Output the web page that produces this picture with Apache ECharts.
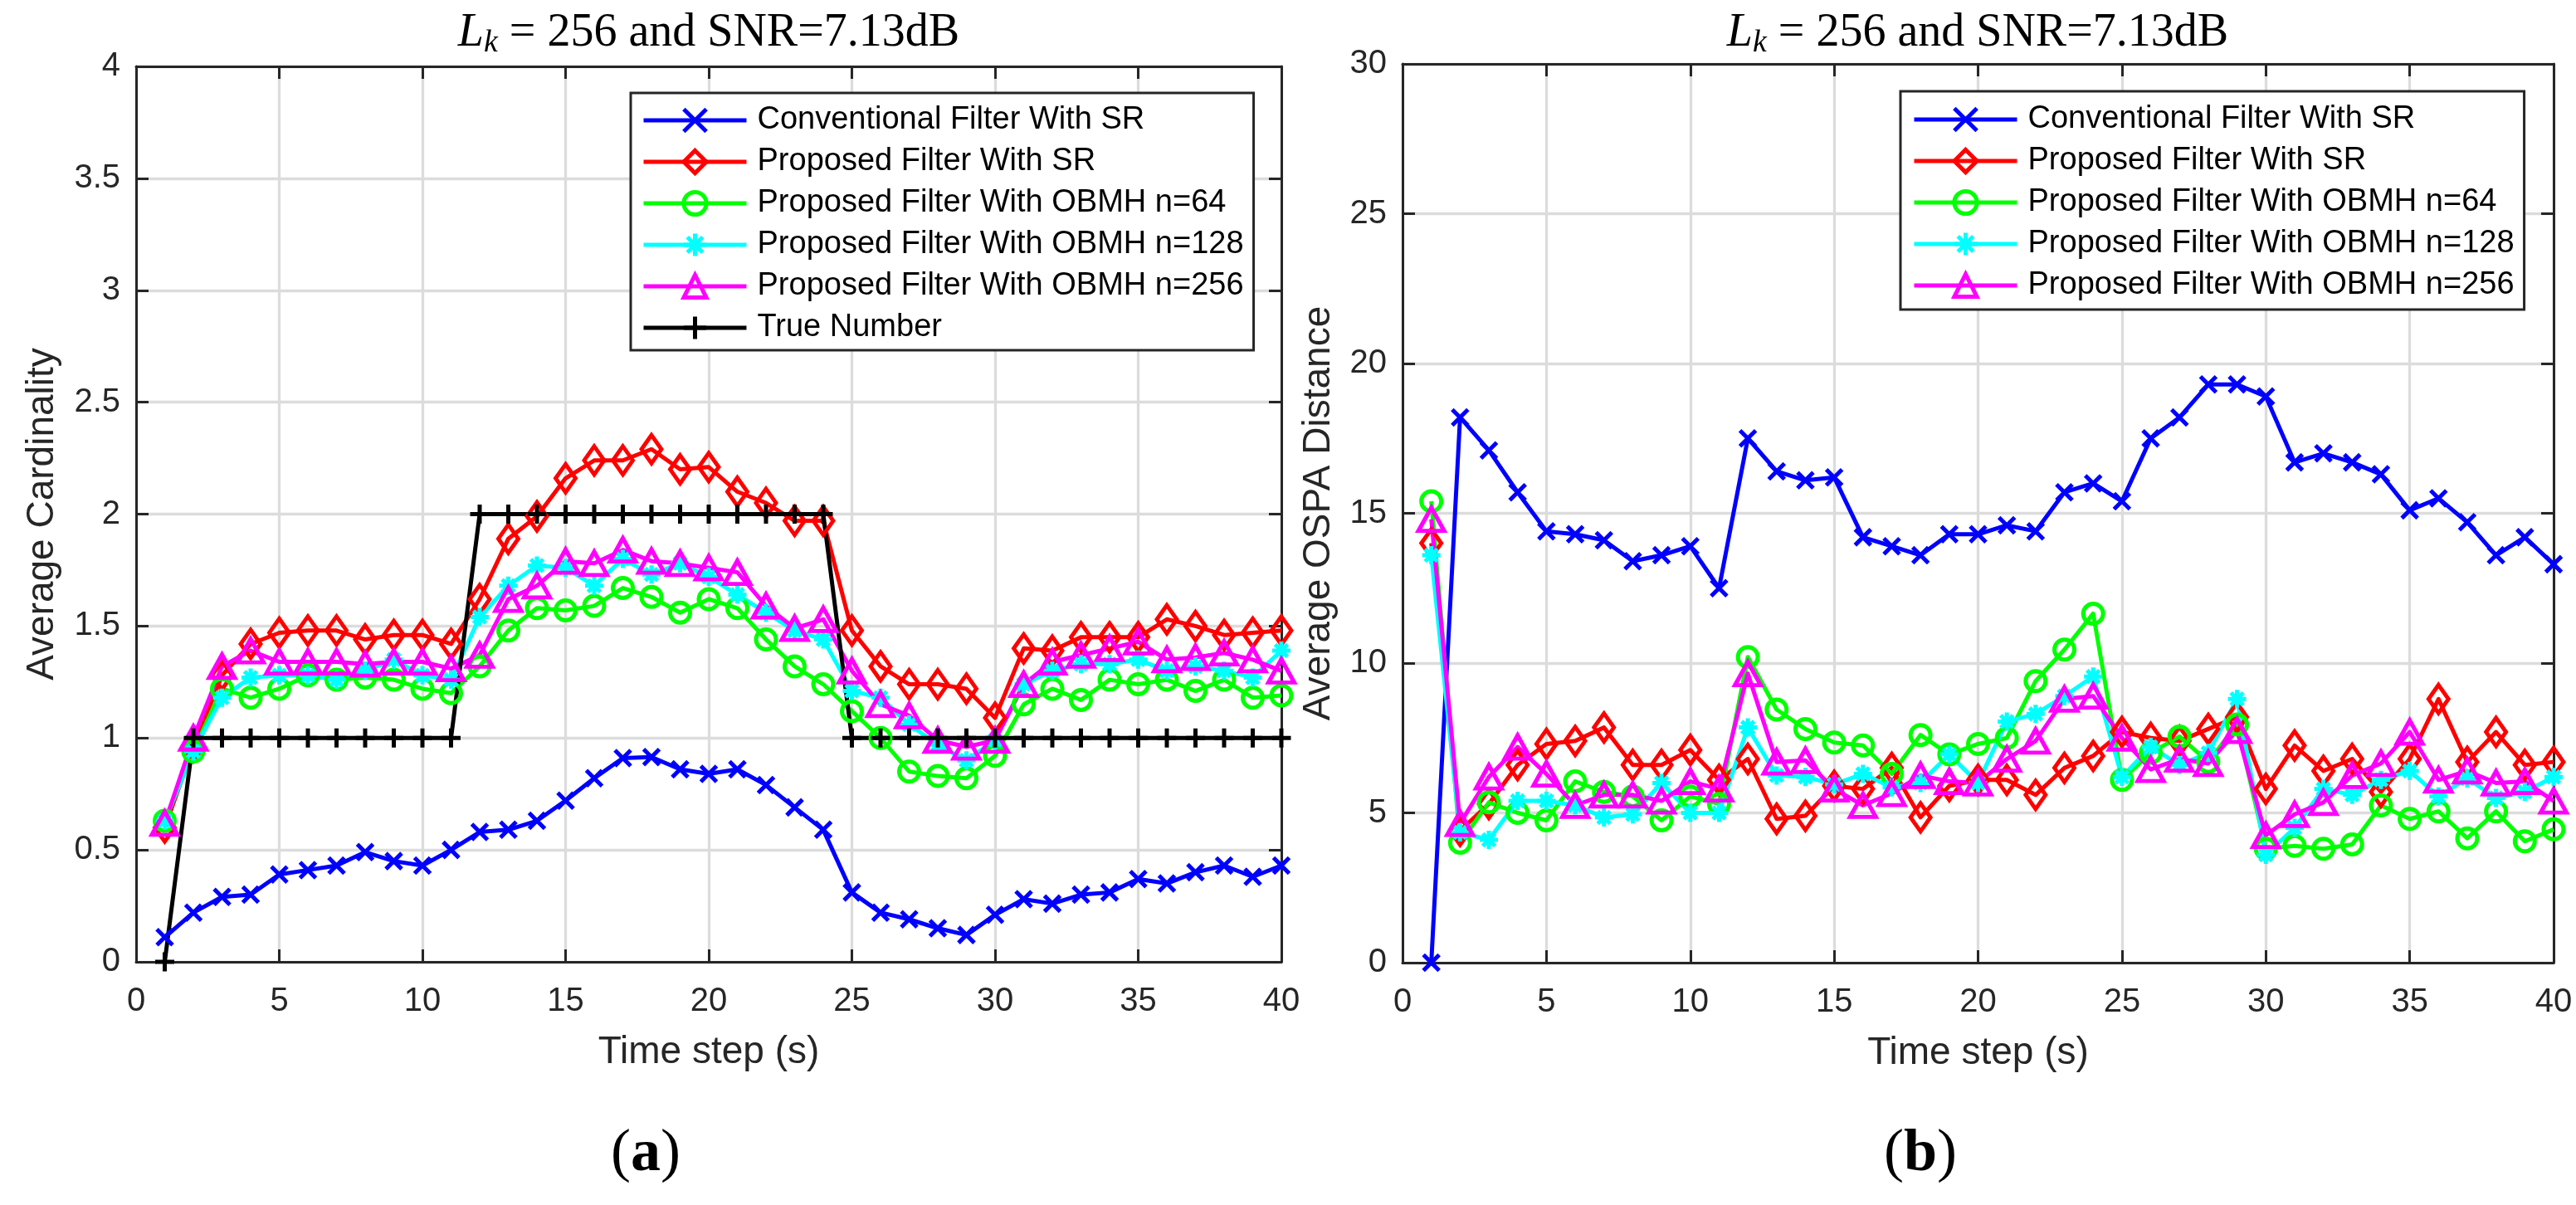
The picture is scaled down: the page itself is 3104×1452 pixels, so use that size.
<!DOCTYPE html>
<html>
<head>
<meta charset="utf-8">
<title>Average Cardinality and OSPA</title>
<script src="https://cdn.jsdelivr.net/npm/echarts@6/dist/echarts.min.js"></script>
<style>
  html, body { margin: 0; padding: 0; background: #fff; }
  #main { width: 3104px; height: 1452px; }
</style>
</head>
<body>
<div id="main"></div>
<script>
var timeSteps = [1, 2, 3, 4, 5, 6, 7, 8, 9, 10, 11, 12, 13, 14, 15, 16, 17, 18, 19, 20,
                 21, 22, 23, 24, 25, 26, 27, 28, 29, 30, 31, 32, 33, 34, 35, 36, 37, 38, 39, 40];

var seriesNames = [
    'Conventional Filter With SR',
    'Proposed Filter With SR',
    'Proposed Filter With OBMH n=64',
    'Proposed Filter With OBMH n=128',
    'Proposed Filter With OBMH n=256',
    'True Number'
];

// (a) average cardinality
var convCard = [0.11, 0.22, 0.29, 0.30, 0.39, 0.41, 0.43, 0.49, 0.45, 0.43, 0.50, 0.58, 0.59, 0.63, 0.72, 0.82, 0.91, 0.915, 0.86, 0.84,
                0.86, 0.79, 0.69, 0.59, 0.31, 0.22, 0.19, 0.15, 0.12, 0.21, 0.28, 0.26, 0.30, 0.31, 0.37, 0.35, 0.40, 0.43, 0.38, 0.43];
var srCard = [0.60, 0.96, 1.28, 1.42, 1.47, 1.48, 1.48, 1.44, 1.46, 1.46, 1.42, 1.62, 1.89, 1.99, 2.16, 2.24, 2.24, 2.29, 2.20, 2.21,
              2.10, 2.05, 1.97, 1.97, 1.48, 1.32, 1.24, 1.24, 1.22, 1.09, 1.40, 1.39, 1.45, 1.45, 1.45, 1.53, 1.50, 1.46, 1.47, 1.48];
var n64Card = [0.63, 0.94, 1.22, 1.18, 1.22, 1.28, 1.26, 1.27, 1.26, 1.22, 1.20, 1.32, 1.48, 1.58, 1.57, 1.59, 1.67, 1.63, 1.56, 1.62,
               1.58, 1.44, 1.32, 1.24, 1.12, 1.00, 0.85, 0.83, 0.82, 0.92, 1.15, 1.22, 1.17, 1.26, 1.24, 1.26, 1.21, 1.26, 1.18, 1.19];
var n128Card = [0.63, 0.94, 1.18, 1.27, 1.28, 1.28, 1.26, 1.30, 1.35, 1.28, 1.26, 1.54, 1.68, 1.77, 1.76, 1.68, 1.80, 1.73, 1.78, 1.72,
                1.64, 1.56, 1.48, 1.44, 1.21, 1.18, 1.06, 0.97, 0.90, 0.99, 1.24, 1.30, 1.33, 1.33, 1.35, 1.30, 1.32, 1.30, 1.27, 1.39];
var n256Card = [0.62, 1.00, 1.32, 1.39, 1.34, 1.34, 1.34, 1.33, 1.34, 1.34, 1.31, 1.37, 1.62, 1.68, 1.79, 1.78, 1.84, 1.79, 1.78, 1.76,
                1.74, 1.59, 1.49, 1.53, 1.30, 1.15, 1.10, 0.99, 0.96, 0.99, 1.24, 1.34, 1.37, 1.40, 1.43, 1.35, 1.36, 1.38, 1.35, 1.30];
var trueCard = [0, 1, 1, 1, 1, 1, 1, 1, 1, 1, 1, 2, 2, 2, 2, 2, 2, 2, 2, 2,
                2, 2, 2, 2, 1, 1, 1, 1, 1, 1, 1, 1, 1, 1, 1, 1, 1, 1, 1, 1];

// (b) average OSPA distance
var convOspa = [0, 18.2, 17.1, 15.7, 14.4, 14.3, 14.1, 13.4, 13.6, 13.9, 12.5, 17.5, 16.4, 16.1, 16.2, 14.2, 13.9, 13.6, 14.3, 14.3,
                14.6, 14.4, 15.7, 16.0, 15.4, 17.5, 18.2, 19.3, 19.3, 18.9, 16.7, 17.0, 16.7, 16.3, 15.1, 15.5, 14.7, 13.6, 14.2, 13.3];
var srOspa = [14.0, 4.4, 5.3, 6.6, 7.3, 7.4, 7.85, 6.6, 6.6, 7.1, 6.1, 6.8, 4.8, 4.9, 5.9, 5.8, 6.5, 4.85, 5.9, 6.1,
              6.1, 5.6, 6.5, 6.9, 7.7, 7.5, 7.4, 7.8, 8.2, 5.8, 7.25, 6.4, 6.8, 5.7, 6.8, 8.8, 6.7, 7.7, 6.6, 6.7];
var n64Ospa = [15.4, 4.0, 5.35, 5.0, 4.75, 6.05, 5.7, 5.55, 4.75, 5.55, 5.3, 10.2, 8.45, 7.8, 7.35, 7.25, 6.3, 7.6, 6.95, 7.3,
               7.5, 9.4, 10.45, 11.65, 6.1, 7.0, 7.55, 6.7, 7.95, 3.8, 3.9, 3.8, 3.95, 5.25, 4.8, 5.05, 4.15, 5.05, 4.05, 4.45];
var n128Ospa = [13.6, 4.35, 4.1, 5.4, 5.4, 5.25, 4.85, 4.95, 6.0, 5.0, 5.0, 7.85, 6.25, 6.2, 5.95, 6.3, 5.85, 6.0, 6.95, 6.0,
                8.05, 8.3, 8.9, 9.55, 6.2, 7.2, 6.6, 7.0, 8.8, 3.6, 4.5, 5.8, 5.6, 6.1, 6.4, 5.55, 6.15, 5.5, 5.7, 6.2];
var n256Ospa = [14.8, 4.65, 6.2, 7.2, 6.3, 5.25, 5.6, 5.6, 5.4, 6.05, 5.8, 9.65, 6.7, 6.75, 5.8, 5.25, 5.65, 6.25, 6.05, 6.0,
                6.8, 7.4, 8.8, 8.9, 7.5, 6.45, 6.8, 6.65, 7.75, 4.25, 4.95, 5.35, 6.25, 6.65, 7.7, 6.1, 6.4, 6.0, 6.05, 5.4];

var cardTicks = [0, 0.5, 1, 1.5, 2, 2.5, 3, 3.5, 4];
var ospaTicks = [0, 5, 10, 15, 20, 25, 30];

var myChart = echarts.init(document.getElementById('main'));

var axisColor = '#262626',
    gridColor = '#dcdcdc',
    sans = 'Liberation Sans',
    serif = 'Liberation Serif',
    lw = 5;

var markX = 'path://M0,0L10,10M0,10L10,0',
    markStar = 'path://M5,0L5,10M0,5L10,5M1.6,1.6L8.4,8.4M1.6,8.4L8.4,1.6',
    markPlus = 'path://M5,0L5,10M0,5L10,5';

var styles = [
    { color: '#0000ff', symbol: markX, size: 19 },
    { color: '#ff0000', symbol: 'diamond', size: [24, 34] },
    { color: '#00ff00', symbol: 'circle', size: 24 },
    { color: '#00ffff', symbol: markStar, size: 22 },
    { color: '#ff00ff', symbol: 'triangle', size: [31, 28] },
    { color: '#000000', symbol: markPlus, size: 23 }
];

function pairs(values) {
    return timeSteps.map(function (t, i) { return [t, values[i]]; });
}

function makeSeries(k, values, axisIdx) {
    var s = styles[k];
    return {
        name: seriesNames[k],
        type: 'line',
        xAxisIndex: axisIdx,
        yAxisIndex: axisIdx,
        data: pairs(values),
        symbol: s.symbol,
        symbolSize: s.size,
        showSymbol: true,
        showAllSymbol: true,
        clip: false,
        lineStyle: { color: s.color, width: lw, join: 'round' },
        itemStyle: { color: 'rgba(0,0,0,0)', borderColor: s.color, borderWidth: lw },
        emphasis: { disabled: true },
        silent: true
    };
}

function tickFmt(v) {
    return String(v);
}

function bottomAxis(grid, name) {
    return {
        type: 'value', gridIndex: grid, position: 'bottom',
        min: 0, max: 40, interval: 5,
        name: name, nameLocation: 'middle', nameGap: 86,
        nameTextStyle: { fontSize: 46, fontFamily: sans, color: axisColor },
        axisLine: { show: true, onZero: false, lineStyle: { color: axisColor, width: 3 } },
        axisTick: { show: true, inside: true, length: 15, lineStyle: { color: axisColor, width: 3 } },
        axisLabel: { fontSize: 40, fontFamily: sans, color: axisColor, margin: 28, formatter: tickFmt },
        splitLine: { show: true, lineStyle: { color: gridColor, width: 3.3 } }
    };
}

function topAxis(grid) {
    return {
        type: 'value', gridIndex: grid, position: 'top',
        min: 0, max: 40, interval: 5,
        axisLine: { show: true, onZero: false, lineStyle: { color: axisColor, width: 3 } },
        axisTick: { show: true, inside: true, length: 15, lineStyle: { color: axisColor, width: 3 } },
        axisLabel: { show: false },
        splitLine: { show: false }
    };
}

function leftAxis(grid, ticks, name, gap) {
    return {
        type: 'value', gridIndex: grid, position: 'left',
        min: ticks[0], max: ticks[ticks.length - 1], interval: ticks[1] - ticks[0],
        name: name, nameLocation: 'middle', nameGap: gap,
        nameTextStyle: { fontSize: 46, fontFamily: sans, color: axisColor },
        axisLine: { show: true, onZero: false, lineStyle: { color: axisColor, width: 3 } },
        axisTick: { show: true, inside: true, length: 15, lineStyle: { color: axisColor, width: 3 } },
        axisLabel: { fontSize: 40, fontFamily: sans, color: axisColor, margin: 19, formatter: tickFmt },
        splitLine: { show: true, lineStyle: { color: gridColor, width: 3.3 } }
    };
}

function rightAxis(grid, ticks) {
    return {
        type: 'value', gridIndex: grid, position: 'right',
        min: ticks[0], max: ticks[ticks.length - 1], interval: ticks[1] - ticks[0],
        axisLine: { show: true, onZero: false, lineStyle: { color: axisColor, width: 3 } },
        axisTick: { show: true, inside: true, length: 15, lineStyle: { color: axisColor, width: 3 } },
        axisLabel: { show: false },
        splitLine: { show: false }
    };
}

function legendBox(left, top, names, pad) {
    return {
        show: true,
        orient: 'vertical',
        left: left,
        top: top,
        data: names,
        selectedMode: false,
        itemWidth: 124,
        itemHeight: 34,
        itemGap: 12,
        padding: pad,
        backgroundColor: '#ffffff',
        borderColor: axisColor,
        borderWidth: 3,
        borderRadius: 0,
        itemStyle: { borderWidth: lw },
        lineStyle: { width: lw },
        textStyle: { fontSize: 38, fontFamily: sans, color: '#000000', lineHeight: 38, padding: [0, 0, 0, 8] }
    };
}

function titleText(x) {
    return {
        type: 'text',
        x: x,
        y: 40,
        silent: true,
        style: {
            text: '{i|L}{s|k}{r| = 256 and SNR=7.13dB}',
            align: 'center',
            verticalAlign: 'middle',
            fill: '#000000',
            rich: {
                i: { fontFamily: serif, fontStyle: 'italic', fontSize: 56, lineHeight: 62, fill: '#000' },
                s: { fontFamily: serif, fontStyle: 'italic', fontSize: 38, lineHeight: 24, verticalAlign: 'bottom', fill: '#000' },
                r: { fontFamily: serif, fontSize: 56, lineHeight: 62, fill: '#000' }
            }
        }
    };
}

function panelLabel(x, letter) {
    return {
        type: 'text',
        x: x,
        y: 1391,
        silent: true,
        style: {
            text: '{p|(}{b|' + letter + '}{p|)}',
            align: 'center',
            verticalAlign: 'middle',
            rich: {
                p: { fontFamily: serif, fontSize: 72, fill: '#000' },
                b: { fontFamily: serif, fontSize: 72, fontWeight: 'bold', fill: '#000' }
            }
        }
    };
}

var option = {
    animation: false,
    backgroundColor: '#ffffff',
    grid: [
        { left: 164, top: 80, width: 1380, height: 1079 },
        { left: 1690, top: 77, width: 1387, height: 1083 }
    ],
    xAxis: [
        bottomAxis(0, 'Time step (s)'),
        topAxis(0),
        bottomAxis(1, 'Time step (s)'),
        topAxis(1)
    ],
    yAxis: [
        leftAxis(0, cardTicks, 'Average Cardinality', 90),
        rightAxis(0, cardTicks),
        leftAxis(1, ospaTicks, 'Average OSPA Distance', 78),
        rightAxis(1, ospaTicks)
    ],
    legend: [
        legendBox(760, 112, seriesNames, [14, 12, 8, 13]),
        legendBox(2290, 110, seriesNames.slice(0, 5), [15, 12, 10, 14])
    ],
    graphic: [
        titleText(854),
        titleText(2383),
        panelLabel(778, 'a'),
        panelLabel(2314, 'b')
    ],
    series: [
        makeSeries(0, convCard, 0),
        makeSeries(1, srCard, 0),
        makeSeries(2, n64Card, 0),
        makeSeries(3, n128Card, 0),
        makeSeries(4, n256Card, 0),
        makeSeries(5, trueCard, 0),
        makeSeries(0, convOspa, 2),
        makeSeries(1, srOspa, 2),
        makeSeries(2, n64Ospa, 2),
        makeSeries(3, n128Ospa, 2),
        makeSeries(4, n256Ospa, 2)
    ]
};

// second panel: axes 2 (bottom x) and 2 (left y)
option.series.forEach(function (s) {
    if (s.xAxisIndex === 2) { s.yAxisIndex = 2; }
});

myChart.setOption(option);
</script>
</body>
</html>
